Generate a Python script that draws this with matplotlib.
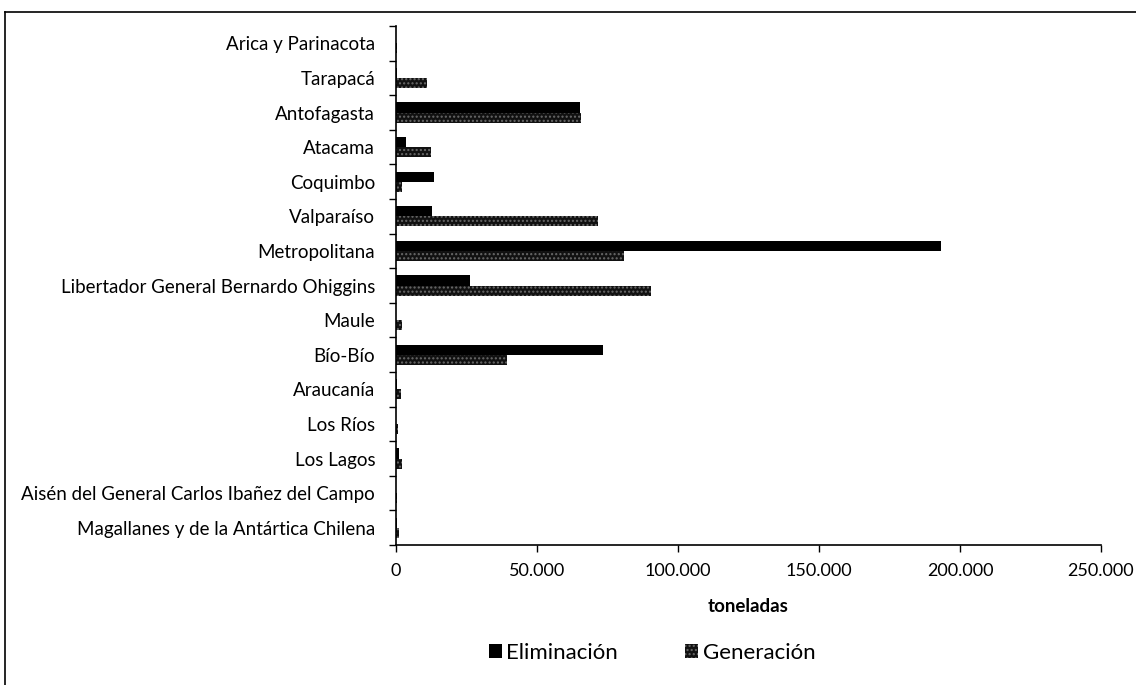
import numpy as np
import matplotlib
matplotlib.use("Agg")
import matplotlib.pyplot as plt
from matplotlib.lines import Line2D
from matplotlib.ticker import FuncFormatter

plt.rcParams['font.family'] = ['Lato', 'DejaVu Sans']

# regiones (de norte a sur)
regiones = ['Arica y Parinacota', 'Tarapacá', 'Antofagasta', 'Atacama', 'Coquimbo',
            'Valparaíso', 'Metropolitana', 'Libertador General Bernardo Ohiggins',
            'Maule', 'Bío-Bío', 'Araucanía', 'Los Ríos', 'Los Lagos',
            'Aisén del General Carlos Ibañez del Campo',
            'Magallanes y de la Antártica Chilena']

# toneladas
eliminacion = [0, 300, 65200, 3500, 13600, 12800, 193300, 26200, 0, 73400,
               200, 100, 1200, 100, 200]
generacion = [200, 11000, 65600, 12300, 2200, 71600, 80900, 90400, 2100, 39400,
              1700, 800, 2000, 300, 1100]

x_ticks = [0, 50000, 100000, 150000, 200000, 250000]

fig = plt.figure(figsize=(11.36, 6.85), dpi=100)
ax = fig.add_axes([396 / 1136, 1 - 545 / 685, (1101 - 396) / 1136, (545 - 26) / 685])

y = np.arange(len(regiones))
h = 0.29
ax.barh(y - h / 2, eliminacion, height=h, color='black', label='Eliminación')
ax.barh(y + h / 2, generacion, height=h, facecolor='#111111', edgecolor='#6a6a6a',
        hatch='....', linewidth=0, label='Generación')

ax.set_ylim(len(regiones) - 0.5, -0.5)
ax.set_xlim(0, 250000)
ax.set_xticks(x_ticks)
ax.xaxis.set_major_formatter(FuncFormatter(lambda v, p: f"{int(v):,}".replace(',', '.')))
ax.set_yticks(y)
ax.set_yticklabels(regiones)
ax.set_yticks(np.arange(-0.5, len(regiones)), minor=True)
ax.tick_params(axis='y', which='major', length=0, pad=15, labelsize=13.5)
ax.tick_params(axis='y', which='minor', length=5, width=1, direction='out')
ax.tick_params(axis='x', length=5, width=1, labelsize=13, pad=8)

for s in ['top', 'right']:
    ax.spines[s].set_visible(False)
ax.spines['left'].set_linewidth(1.2)
ax.spines['bottom'].set_linewidth(1.2)

ax.set_xlabel('toneladas', fontsize=13.5, fontweight='bold', labelpad=14)

fig.legend(loc='center', bbox_to_anchor=(652 / 1136, 1 - 653 / 685), ncol=2,
           frameon=False, fontsize=16, handlelength=0.6, handleheight=0.6,
           handletextpad=0.2, columnspacing=3.0)

# marco exterior del grafico
fig.add_artist(Line2D([5 / 1136, 5 / 1136], [0, 1 - 12 / 685], transform=fig.transFigure,
                      color='black', linewidth=1.2))
fig.add_artist(Line2D([5 / 1136, 1], [1 - 12 / 685, 1 - 12 / 685], transform=fig.transFigure,
                      color='black', linewidth=1.2))

fig.savefig('out.png', dpi=100)
